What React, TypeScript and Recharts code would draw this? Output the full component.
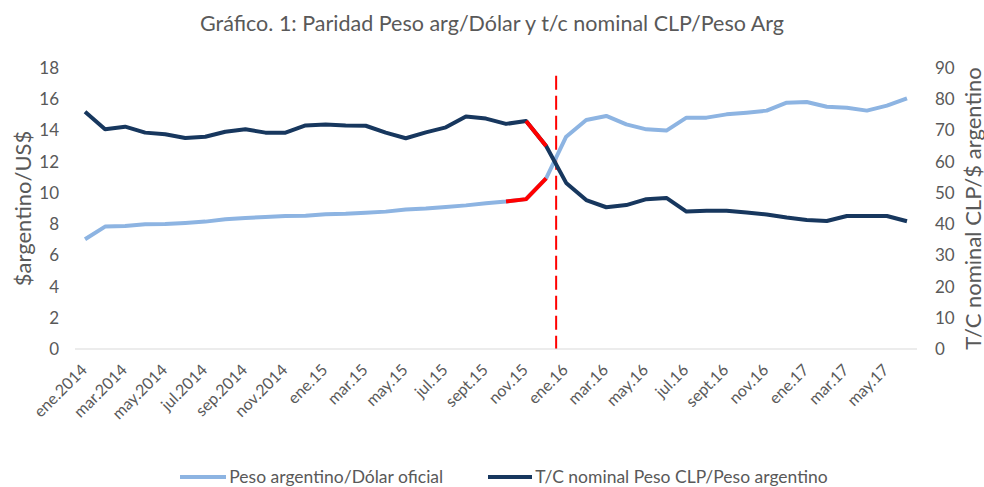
import React from 'react';
import { LineChart, Line, XAxis, YAxis, ReferenceLine, Legend } from 'recharts';

// monthly labels, ene.2014 .. jun.17 (only every 2nd one is shown on the axis)
const months = [
  'ene.2014', 'feb.2014', 'mar.2014', 'abr.2014', 'may.2014', 'jun.2014',
  'jul.2014', 'ago.2014', 'sep.2014', 'oct.2014', 'nov.2014', 'dic.2014',
  'ene.15', 'feb.15', 'mar.15', 'abr.15', 'may.15', 'jun.15',
  'jul.15', 'ago.15', 'sept.15', 'oct.15', 'nov.15', 'dic.15',
  'ene.16', 'feb.16', 'mar.16', 'abr.16', 'may.16', 'jun.16',
  'jul.16', 'ago.16', 'sept.16', 'oct.16', 'nov.16', 'dic.16',
  'ene.17', 'feb.17', 'mar.17', 'abr.17', 'may.17', 'jun.17',
];

// Peso argentino / Dólar oficial (left axis)
const pesoDolar = [
  7.03, 7.84, 7.88, 7.99, 8.0, 8.07, 8.16, 8.31, 8.39, 8.46, 8.52, 8.54,
  8.63, 8.66, 8.72, 8.8, 8.93, 9.0, 9.1, 9.2, 9.33, 9.45, 9.6, 10.93,
  13.6, 14.67, 14.93, 14.39, 14.07, 13.99, 14.82, 14.82, 15.03, 15.14, 15.27, 15.78,
  15.82, 15.52, 15.46, 15.27, 15.59, 16.06,
];

// T/C nominal Peso CLP / Peso argentino (right axis)
const clpPeso = [
  76.0, 70.4, 71.2, 69.3, 68.8, 67.6, 68.0, 69.6, 70.4, 69.3, 69.3, 71.6,
  71.9, 71.6, 71.5, 69.3, 67.5, 69.4, 71.0, 74.5, 73.8, 72.1, 73.0, 65.0,
  53.2, 47.7, 45.4, 46.1, 48.0, 48.4, 44.0, 44.3, 44.3, 43.7, 43.1, 42.1,
  41.3, 41.0, 42.6, 42.6, 42.6, 40.9,
];

// stretches highlighted in red
const pesoRedRange = [21, 23];
const clpRedRange = [22, 23];
// dashed line between dic.15 and ene.16
const breakAt = 23.5;

const data = months.map((m, i) => ({
  i,
  month: m,
  peso: pesoDolar[i],
  clp: clpPeso[i],
  pesoRed: i >= pesoRedRange[0] && i <= pesoRedRange[1] ? pesoDolar[i] : null,
  clpRed: i >= clpRedRange[0] && i <= clpRedRange[1] ? clpPeso[i] : null,
}));

const monthTicks = months.map((_, i) => i).filter((i) => i % 2 === 0);

const FONT = 'Lato, "Open Sans", sans-serif';
const GREY = '#595959';
const LIGHT = '#8DB4E2';
const DARK = '#17375E';

const XTick = ({ x, y, payload }: any) => (
  <text
    x={x + 3}
    y={y + 14}
    transform={`rotate(-45 ${x + 3} ${y + 14})`}
    textAnchor="end"
    fontSize={16}
    fontFamily={FONT}
    fill={GREY}
  >
    {months[payload.value]}
  </text>
);

const axisTitle = (value: string, dx: number) => ({ viewBox }: any) => {
  const cx = viewBox.x + dx;
  const cy = viewBox.y + viewBox.height / 2;
  return (
    <text
      x={cx}
      y={cy}
      transform={`rotate(-90 ${cx} ${cy})`}
      textAnchor="middle"
      dominantBaseline="central"
      fontSize={22}
      fontFamily={FONT}
      fill={GREY}
    >
      {value}
    </text>
  );
};

const renderLegend = () => (
  <div
    style={{
      display: 'flex',
      justifyContent: 'center',
      alignItems: 'center',
      fontFamily: FONT,
      fontSize: 17.5,
      color: GREY,
      lineHeight: '20px',
      paddingLeft: 24,
    }}
  >
    <span style={{ display: 'inline-block', width: 46, height: 4, background: LIGHT, marginRight: 3 }} />
    <span>Peso argentino/Dólar oficial</span>
    <span style={{ display: 'inline-block', width: 44, height: 4, background: DARK, marginLeft: 45, marginRight: 3 }} />
    <span>T/C nominal Peso CLP/Peso argentino</span>
  </div>
);

const App: React.FC = () => {
  return (
    <div style={{ position: 'absolute', left: 0, top: 0, width: 984, height: 487, background: '#fff' }}>
      <div
        style={{
          position: 'absolute',
          top: 10,
          width: 984,
          textAlign: 'center',
          fontFamily: FONT,
          fontSize: 21.5,
          color: GREY,
        }}
      >
        Gráfico. 1: Paridad Peso arg/Dólar y t/c nominal CLP/Peso Arg
      </div>
      <LineChart
        width={984}
        height={487}
        data={data}
        margin={{ top: 68, right: 0, bottom: 58, left: 0 }}
      >
        <XAxis
          dataKey="i"
          type="number"
          domain={[-0.5, 41.5]}
          ticks={monthTicks}
          interval={0}
          height={80}
          tick={<XTick />}
          tickLine={false}
          axisLine={{ stroke: '#D9D9D9', strokeWidth: 1 }}
        />
        <YAxis
          yAxisId="left"
          domain={[0, 18]}
          ticks={[0, 2, 4, 6, 8, 10, 12, 14, 16, 18]}
          width={75}
          axisLine={false}
          tickLine={false}
          tickMargin={10}
          tick={{ fontSize: 17, fontFamily: FONT, fill: GREY }}
          label={{ content: axisTitle('$argentino/US$', 22) }}
        />
        <YAxis
          yAxisId="right"
          orientation="right"
          domain={[0, 90]}
          ticks={[0, 10, 20, 30, 40, 50, 60, 70, 80, 90]}
          width={67}
          axisLine={false}
          tickLine={false}
          tickMargin={12}
          tick={{ fontSize: 17, fontFamily: FONT, fill: GREY }}
          label={{ content: axisTitle('T/C nominal CLP/$ argentino', 55) }}
        />
        <Legend
          layout="horizontal"
          verticalAlign="middle"
          align="center"
          content={renderLegend}
          wrapperStyle={{ top: 467, left: 0, width: 984 }}
        />
        <ReferenceLine
          yAxisId="left"
          segment={[{ x: breakAt, y: 17.5 }, { x: breakAt, y: 0 }]}
          stroke="#FF0000"
          strokeWidth={2}
          strokeDasharray="14 6"
        />
        <Line
          yAxisId="left"
          dataKey="peso"
          name="Peso argentino/Dólar oficial"
          stroke={LIGHT}
          strokeWidth={4}
          dot={false}
          activeDot={false}
          strokeLinejoin="round"
          isAnimationActive={false}
        />
        <Line
          yAxisId="left"
          dataKey="pesoRed"
          stroke="#FF0000"
          strokeWidth={4}
          dot={false}
          activeDot={false}
          legendType="none"
          isAnimationActive={false}
        />
        <Line
          yAxisId="right"
          dataKey="clp"
          name="T/C nominal Peso CLP/Peso argentino"
          stroke={DARK}
          strokeWidth={4}
          dot={false}
          activeDot={false}
          strokeLinejoin="round"
          isAnimationActive={false}
        />
        <Line
          yAxisId="right"
          dataKey="clpRed"
          stroke="#FF0000"
          strokeWidth={4}
          dot={false}
          activeDot={false}
          legendType="none"
          isAnimationActive={false}
        />
      </LineChart>
    </div>
  );
};

export default App;
